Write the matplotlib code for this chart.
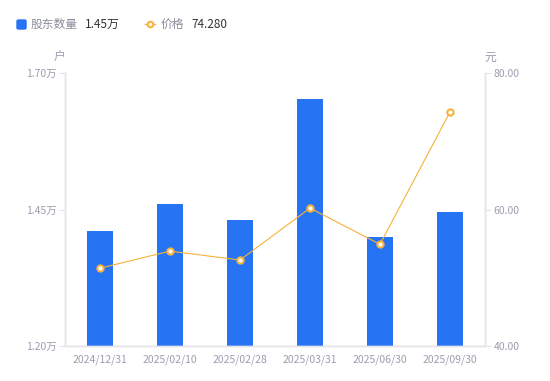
import matplotlib.pyplot as plt
from matplotlib.lines import Line2D
from matplotlib.patches import FancyBboxPatch

plt.rcParams['font.family'] = ['Noto Sans CJK SC', 'DejaVu Sans']

dates = ['2024/12/31', '2025/02/10', '2025/02/28', '2025/03/31', '2025/06/30', '2025/09/30']
holders = [1.41, 1.46, 1.43, 1.652, 1.40, 1.446]  # 万户
price = [51.4, 53.9, 52.6, 60.2, 54.9, 74.28]

left_ticks = [1.20, 1.45, 1.70]
right_ticks = [40, 60, 80]

bar_color = '#2674F4'
line_color = '#F7B23B'
txt = '#9B9EAE'
axis_col = '#E3E4E8'

W, H = 550, 381
fig = plt.figure(figsize=(5.5, 3.81), dpi=100)
ax = fig.add_axes([65 / W, 1 - 346 / H, 420 / W, 273 / H])
x = list(range(len(dates)))
ax.bar(x, holders, width=0.36, color=bar_color, zorder=2)
ax.set_xlim(-0.5, 5.5)
ax.set_ylim(1.20, 1.70)
ax.set_yticks(left_ticks)
ax.set_yticklabels([f'{v:.2f}万' for v in left_ticks])
ax.set_xticks(x)
ax.set_xticklabels(dates)

ax2 = ax.twinx()
ax2.plot(x, price, color=line_color, lw=0.8, marker='o', ms=4.5,
         mfc='white', mec=line_color, mew=1.5, zorder=3)
ax2.set_ylim(40, 80)
ax2.set_yticks(right_ticks)
ax2.set_yticklabels([f'{v:.2f}' for v in right_ticks])

for a in (ax, ax2):
    a.spines['top'].set_visible(False)
    for s in ('left', 'right', 'bottom'):
        a.spines[s].set_color(axis_col)
        a.spines[s].set_linewidth(1)
    a.tick_params(colors=txt, labelsize=7.5, length=4, width=0.8)
    a.tick_params(axis='y', color=axis_col)
ax.tick_params(axis='x', length=0, pad=6)
ax.tick_params(axis='y', pad=2)
ax2.tick_params(axis='y', pad=2)

fig.text(60 / W, 1 - 57 / H, '户', color=txt, fontsize=8.5, ha='center', va='center')
fig.text(490 / W, 1 - 57 / H, '元', color=txt, fontsize=8.5, ha='center', va='center')

# legend drawn by hand: gray name, dark value
ly = 1 - 24 / H
fig.add_artist(FancyBboxPatch((17 / W, 1 - 29 / H), 9 / W, 9 / H,
                              boxstyle='round,pad=0,rounding_size=0.003',
                              color=bar_color, transform=fig.transFigure))
fig.text(31 / W, ly, '股东数量', color='#8A8D9A', fontsize=8.5, va='center')
fig.text(85 / W, ly, '1.45万', color='#333333', fontsize=8.5, va='center')
fig.add_artist(Line2D([145 / W, 155 / W], [ly, ly], color=line_color, lw=1,
                      transform=fig.transFigure))
fig.add_artist(Line2D([150 / W], [ly], marker='o', ms=4, mfc='white', mec=line_color,
                      mew=1.5, transform=fig.transFigure))
fig.text(161 / W, ly, '价格', color='#8A8D9A', fontsize=8.5, va='center')
fig.text(191 / W, ly, '74.280', color='#333333', fontsize=8.5, va='center')

fig.savefig('out.png', dpi=100)
